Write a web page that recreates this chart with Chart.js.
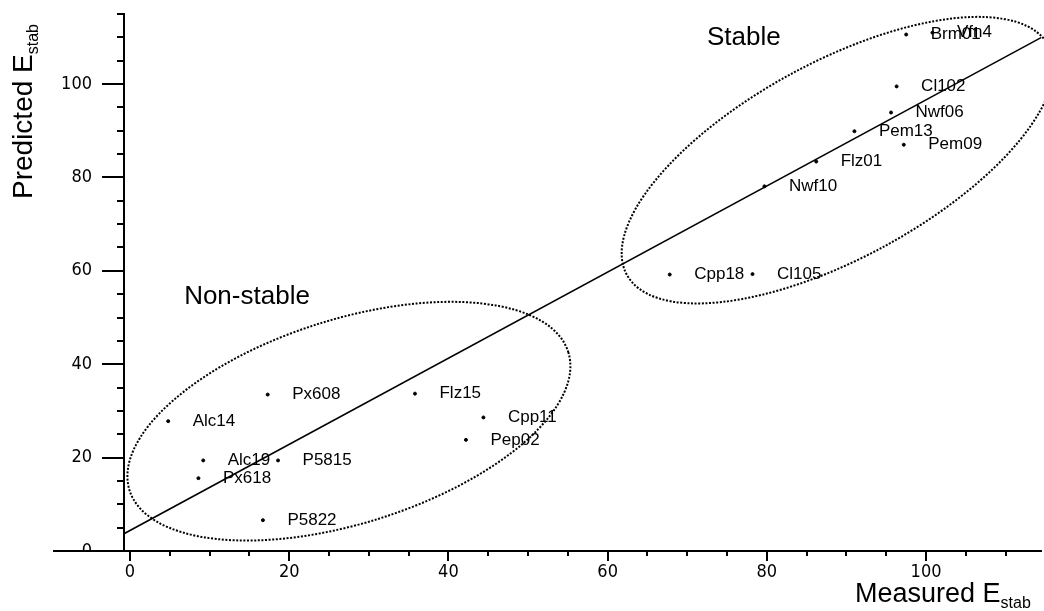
<!DOCTYPE html>
<html>
<head>
<meta charset="utf-8">
<script src="https://cdn.jsdelivr.net/npm/chart.js@4.4.0/dist/chart.umd.min.js"></script>
<style>
  html, body { margin: 0; padding: 0; background: #fff; }
  #wrap { width: 1044px; height: 611px; }
</style>
</head>
<body>
<div id="wrap"><canvas id="chart" width="1044" height="611"></canvas></div>
<script>
// values
const pointNames = ['Alc14', 'Px608', 'Alc19', 'P5815', 'Px618', 'P5822', 'Flz15', 'Cpp11', 'Pep02',
                    'Cpp18', 'Cl105', 'Nwf10', 'Flz01', 'Pem13', 'Pem09', 'Nwf06', 'Cl102', 'Brm01', 'Vfn4'];
const measured  = [4.8, 17.3, 9.2, 18.6, 8.6, 16.7, 35.8, 44.4, 42.2,
                   67.8, 78.2, 79.7, 86.2, 91.0, 97.2, 95.6, 96.3, 97.5, 100.8];
const predicted = [27.8, 33.5, 19.4, 19.4, 15.6, 6.6, 33.7, 28.6, 23.8,
                   59.2, 59.3, 78.1, 83.4, 89.9, 87.0, 93.9, 99.5, 110.6, 111.0];

// regression line end points
const fitX = [-0.75, 114.5];
const fitY = [3.7, 110.0];

// axis ticks
const xTicks = [0, 5, 10, 15, 20, 25, 30, 35, 40, 45, 50, 55, 60, 65, 70, 75, 80, 85, 90, 95, 100, 105, 110];
const xLabels = [0, 20, 40, 60, 80, 100];
const yTicks = [0, 5, 10, 15, 20, 25, 30, 35, 40, 45, 50, 55, 60, 65, 70, 75, 80, 85, 90, 95, 100, 105, 110, 115];
const yLabels = [0, 20, 40, 60, 80, 100];

// group annotations (centre in data units, radii in px)
const groupNames = ['Non-stable', 'Stable'];
const groupLabelX = [14.7, 77.1];
const groupLabelY = [54.5, 109.9];
const ellipseX = [27.5, 88.9];
const ellipseY = [27.8, 83.7];
const ellipseRx = [230, 240];
const ellipseRy = [102, 98];
const ellipseRot = [-17.5, -28.5];

const tickFamily = '"Liberation Sans Narrow", "DejaVu Sans Condensed", sans-serif';
const labelFont = '17px "Liberation Sans", Arial, sans-serif';
const subFont = '16px "Liberation Sans", Arial, sans-serif';

const scatterData = measured.map((x, i) => ({ x: x, y: predicted[i] }));
const lineData = fitX.map((x, i) => ({ x: x, y: fitY[i] }));

// ticks, ellipses and all the extra text
const decorPlugin = {
    id: 'decor',
    afterDraw(chart) {
        const ctx = chart.ctx;
        const xs = chart.scales.x;
        const ys = chart.scales.y;
        const area = chart.chartArea;
        ctx.save();

        // hide lower half of the y "0" label like the original, then extend x axis left
        ctx.fillStyle = '#fff';
        ctx.fillRect(60, area.bottom + 1, area.left - 62, 12);
        ctx.strokeStyle = '#000';
        ctx.lineWidth = 2;
        ctx.beginPath();
        ctx.moveTo(53, area.bottom);
        ctx.lineTo(area.left, area.bottom);
        ctx.stroke();

        // tick marks
        ctx.beginPath();
        xTicks.forEach(v => {
            const px = Math.round(xs.getPixelForValue(v));
            const len = xLabels.includes(v) ? 10 : 5;
            ctx.moveTo(px, area.bottom);
            ctx.lineTo(px, area.bottom + len);
        });
        yTicks.forEach(v => {
            const py = Math.round(ys.getPixelForValue(v));
            const len = yLabels.includes(v) ? 22 : 7;
            ctx.moveTo(area.left, py);
            ctx.lineTo(area.left - len, py);
        });
        ctx.stroke();

        // dotted ellipses
        ctx.setLineDash([2, 1.6]);
        for (let i = 0; i < groupNames.length; i++) {
            ctx.beginPath();
            ctx.ellipse(xs.getPixelForValue(ellipseX[i]), ys.getPixelForValue(ellipseY[i]),
                        ellipseRx[i], ellipseRy[i], ellipseRot[i] * Math.PI / 180, 0, Math.PI * 2);
            ctx.stroke();
        }
        ctx.setLineDash([]);

        // group names
        ctx.fillStyle = '#000';
        ctx.font = '26px "Liberation Sans", Arial, sans-serif';
        ctx.textAlign = 'center';
        ctx.textBaseline = 'middle';
        for (let i = 0; i < groupNames.length; i++) {
            ctx.fillText(groupNames[i], xs.getPixelForValue(groupLabelX[i]), ys.getPixelForValue(groupLabelY[i]));
        }

        // point names
        ctx.font = labelFont;
        ctx.textAlign = 'left';
        const meta = chart.getDatasetMeta(0);
        meta.data.forEach((pt, i) => {
            ctx.fillText(pointNames[i], pt.x + 24.5, pt.y);
        });

        // axis titles with subscript
        ctx.textBaseline = 'alphabetic';
        ctx.font = '27px "Liberation Sans", Arial, sans-serif';
        let main = 'Measured E';
        ctx.fillText(main, 855, 602);
        let w = ctx.measureText(main).width;
        ctx.font = subFont;
        ctx.fillText('stab', 855 + w, 608);

        ctx.translate(32, 199);
        ctx.rotate(-Math.PI / 2);
        ctx.font = '28px "Liberation Sans", Arial, sans-serif';
        main = 'Predicted E';
        ctx.fillText(main, 0, 0);
        w = ctx.measureText(main).width;
        ctx.font = subFont;
        ctx.fillText('stab', w, 6);

        ctx.restore();
    }
};

new Chart(document.getElementById('chart'), {
    type: 'scatter',
    data: {
        datasets: [
            {
                label: 'compounds',
                data: scatterData,
                backgroundColor: '#000',
                borderColor: '#000',
                pointRadius: 1.5,
                pointHoverRadius: 1.5
            },
            {
                label: 'fit',
                type: 'line',
                data: lineData,
                borderColor: '#000',
                borderWidth: 1.5,
                pointRadius: 0,
                fill: false,
                tension: 0
            }
        ]
    },
    options: {
        responsive: false,
        animation: false,
        events: [],
        layout: { padding: { top: 14, left: 0, right: 0, bottom: 0 } },
        plugins: {
            legend: { display: false },
            tooltip: { enabled: false }
        },
        scales: {
            x: {
                type: 'linear',
                position: 'bottom',
                min: -0.75,
                max: 114.5,
                grid: { display: false },
                border: { display: true, color: '#000', width: 2 },
                afterBuildTicks: s => { s.ticks = xTicks.map(v => ({ value: v })); },
                afterFit: s => {
                    s.height = 60;
                    s.paddingLeft = 0;
                    s.paddingRight = 0;
                },
                ticks: {
                    autoSkip: false,
                    maxRotation: 0,
                    padding: 3,
                    color: '#000',
                    font: { family: tickFamily, size: 18 },
                    callback: v => xLabels.includes(v) ? String(v) : ''
                }
            },
            y: {
                type: 'linear',
                position: 'left',
                min: 0,
                max: 115,
                grid: { display: false },
                border: { display: true, color: '#000', width: 2 },
                afterBuildTicks: s => { s.ticks = yTicks.map(v => ({ value: v })); },
                afterFit: s => {
                    s.width = 124;
                    s.paddingTop = 0;
                    s.paddingBottom = 0;
                },
                ticks: {
                    autoSkip: false,
                    padding: 24,
                    color: '#000',
                    font: { family: tickFamily, size: 18 },
                    callback: v => yLabels.includes(v) ? String(v) : ''
                }
            }
        }
    },
    plugins: [decorPlugin]
});
</script>
</body>
</html>
